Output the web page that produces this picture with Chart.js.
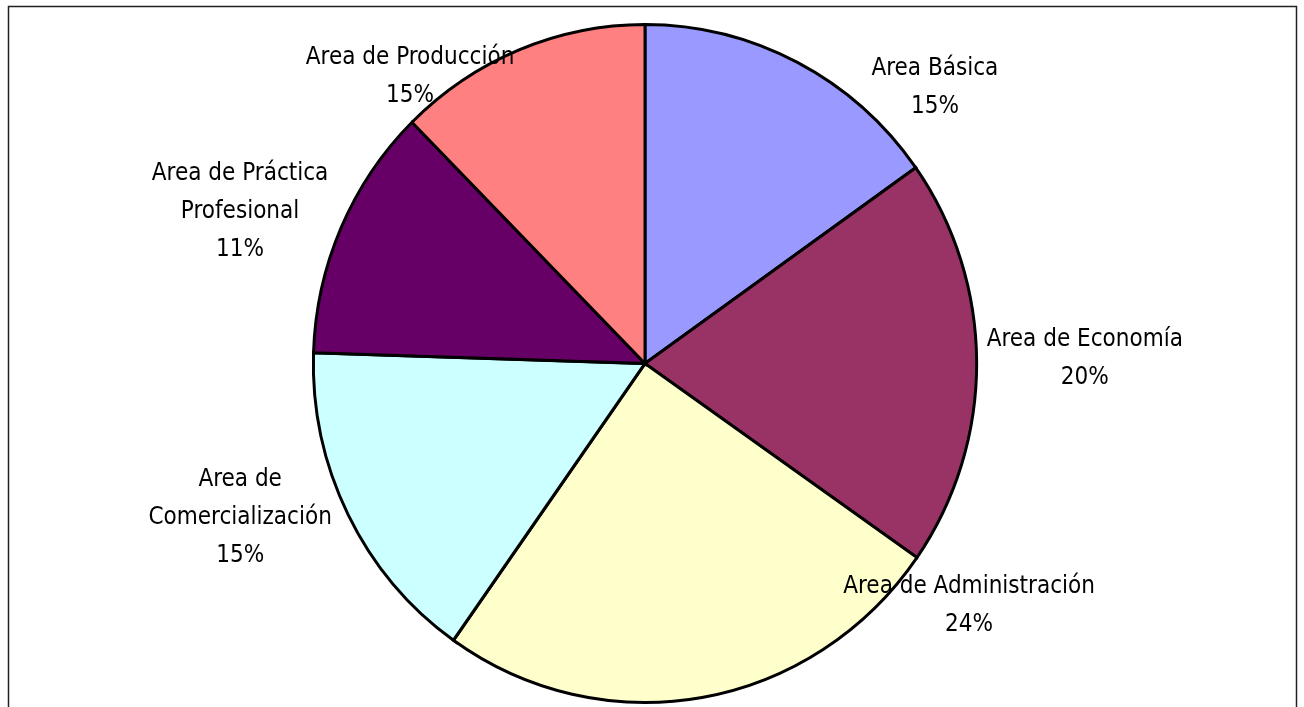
<!DOCTYPE html>
<html>
<head>
<meta charset="utf-8">
<script src="https://cdn.jsdelivr.net/npm/chart.js@4/dist/chart.umd.min.js"></script>
<style>
  html, body { margin: 0; padding: 0; background: #fff; }
  #wrap { width: 1304px; height: 707px; position: relative; }
</style>
</head>
<body>
<div id="wrap"><canvas id="chart" width="1304" height="707"></canvas></div>
<script>
// categorias y valores (porcentaje del area del pastel)
const categories = [
  'Area Básica',
  'Area de Economía',
  'Area de Administración',
  'Area de Comercialización',
  'Area de Práctica Profesional',
  'Area de Producción'
];
const shares = [15.2, 19.5, 25.1, 15.7, 12.1, 12.4];
// porcentajes impresos en las etiquetas
const pctLabels = ['15%', '20%', '24%', '15%', '11%', '15%'];
// lineas de cada etiqueta
const labelLines = [
  ['Area Básica'],
  ['Area de Economía'],
  ['Area de Administración'],
  ['Area de', 'Comercialización'],
  ['Area de Práctica', 'Profesional'],
  ['Area de Producción']
];

// colores de la paleta clasica
const sliceColors = ['#9999ff', '#993366', '#ffffcc', '#ccffff', '#660066', '#ff8080'];

// donde va cada etiqueta: angulo (grados, desde arriba en sentido horario) y distancia / radio
const labelPos = [
  { ang: 46.2, dist: 1.199 },
  { ang: 89.1, dist: 1.313 },
  { ang: 126.6, dist: 1.205 },
  { ang: 249.4, dist: 1.291 },
  { ang: 290.8, dist: 1.293 },
  { ang: 320.9, dist: 1.112 }
];

// el pastel original es un poco mas alto que ancho
const STRETCH_X = 0.99, STRETCH_Y = 1.012;

const FONT = '"Liberation Sans Narrow", "Arial Narrow", "DejaVu Sans Condensed", sans-serif';
const LINE_H = 38;

const framePlugin = {
  id: 'frame',
  beforeDraw(chart) {
    const c = chart.ctx;
    c.save();
    c.fillStyle = '#fff';
    c.fillRect(0, 0, chart.width, chart.height);
    c.strokeStyle = '#222';
    c.lineWidth = 1.5;
    c.strokeRect(8.5, 6.5, chart.width - 16, chart.height + 10);
    c.restore();
  }
};

const stretchPlugin = {
  id: 'stretch',
  beforeDatasetsDraw(chart) {
    const arc = chart.getDatasetMeta(0).data[0];
    const c = chart.ctx;
    c.save();
    c.translate(arc.x, arc.y);
    c.scale(STRETCH_X, STRETCH_Y);
    c.translate(-arc.x, -arc.y);
  },
  afterDatasetsDraw(chart) {
    chart.ctx.restore();
  }
};

const labelPlugin = {
  id: 'sliceLabels',
  afterDatasetsDraw(chart) {
    const meta = chart.getDatasetMeta(0);
    const arc = meta.data[0];
    const cx = arc.x, cy = arc.y, r = arc.outerRadius;
    const c = chart.ctx;
    c.save();
    c.fillStyle = '#000';
    c.font = '24px ' + FONT;
    c.textAlign = 'center';
    c.textBaseline = 'middle';
    categories.forEach((cat, i) => {
      const lines = labelLines[i].concat([pctLabels[i]]);
      const a = (labelPos[i].ang - 90) * Math.PI / 180;
      const x = cx + Math.cos(a) * r * labelPos[i].dist;
      const y = cy + Math.sin(a) * r * labelPos[i].dist + 2;
      const top = y - (lines.length - 1) * LINE_H / 2;
      lines.forEach((ln, k) => c.fillText(ln, x, top + k * LINE_H));
    });
    c.restore();
  }
};

new Chart(document.getElementById('chart'), {
  type: 'pie',
  data: {
    labels: categories,
    datasets: [{
      data: shares,
      backgroundColor: sliceColors,
      borderColor: '#000',
      borderWidth: 3,
      borderJoinStyle: 'miter'
    }]
  },
  options: {
    responsive: false,
    animation: false,
    layout: { padding: { top: 27, bottom: 7, left: 0, right: 14 } },
    plugins: {
      legend: { display: false },
      tooltip: { enabled: false }
    }
  },
  plugins: [framePlugin, stretchPlugin, labelPlugin]
});
</script>
</body>
</html>
